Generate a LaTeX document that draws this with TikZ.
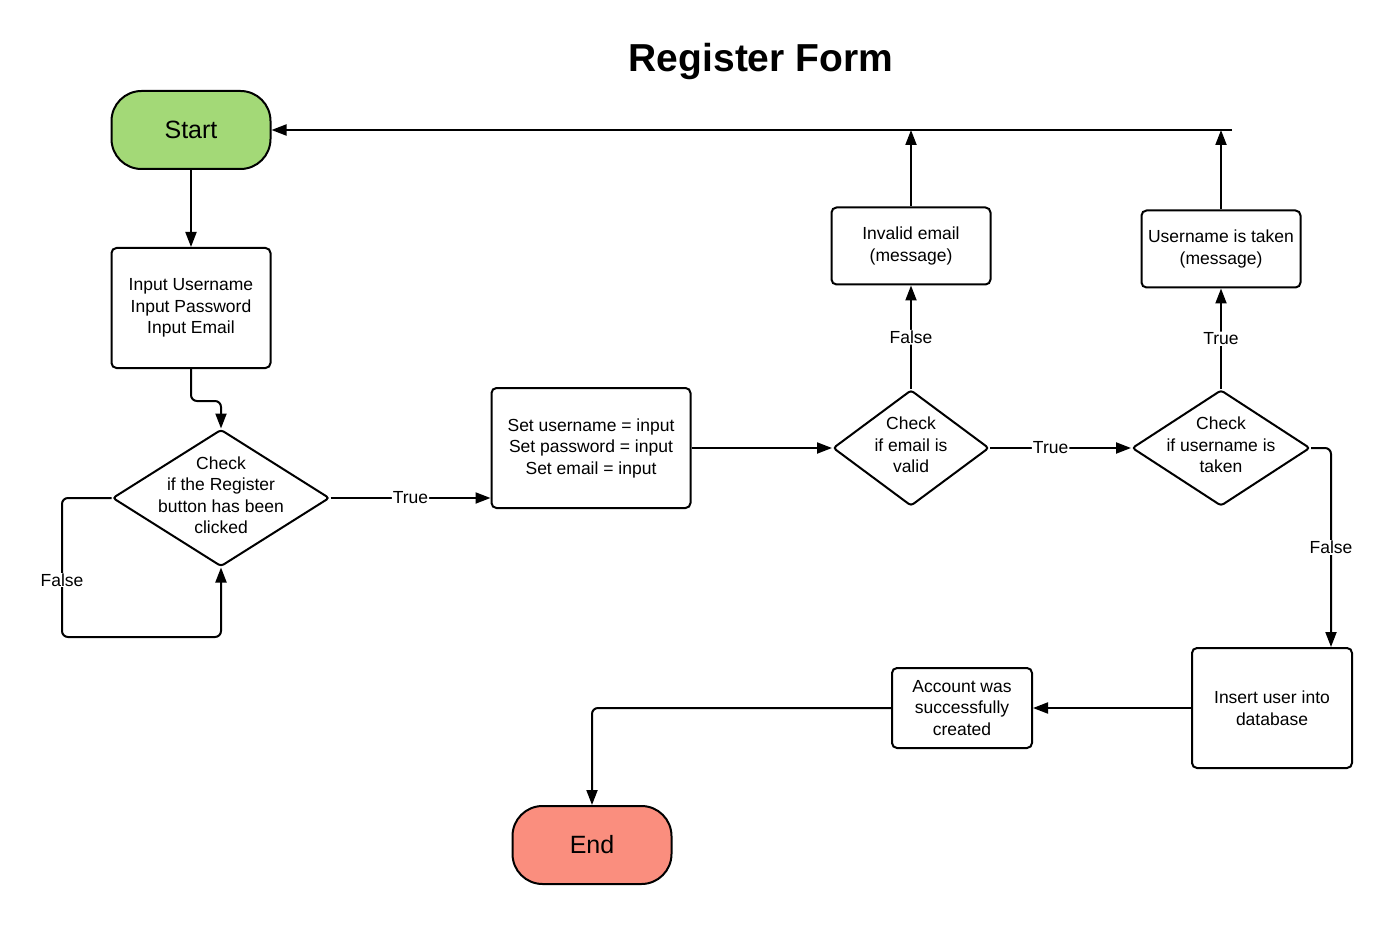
\documentclass[tikz,border=0pt]{standalone}
\usepackage{fontspec}
\setmainfont{Liberation Sans}
\usetikzlibrary{arrows.meta,positioning,shapes.geometric}
\definecolor{leaf}{RGB}{163,217,119}
\definecolor{salmon}{RGB}{250,142,126}
\tikzset{
  >={Triangle[length=15pt,width=11pt]},
  txt/.style={align=center,font=\fontsize{17.5}{21.5}\selectfont},
  box/.style 2 args={draw,line width=2pt,rounded corners=5pt,inner sep=0pt,
    minimum width=#1,minimum height=#2,txt},
  term/.style={draw,line width=2pt,fill=#1,rounded corners=30pt,
    minimum width=159pt,minimum height=78pt,font=\fontsize{25}{30}\selectfont},
  check/.style n args={3}{diamond,draw,line width=2pt,rounded corners=3pt,inner sep=0pt,
    minimum width=#1,minimum height=#2,label={[txt,yshift=3pt]center:#3}},
  flow/.style={->,line width=2pt,rounded corners=6pt},
  tag/.style={fill=white,inner sep=1pt,font=\fontsize{17.5}{21.5}\selectfont},
}

\begin{document}
\begin{tikzpicture}[x=1pt,y=-1pt]
  \useasboundingbox (0,0) rectangle (1392,925);
  \node[font=\bfseries\fontsize{39}{44}\selectfont] (title) at (761,62) {Register Form};

  % nodes
  \node[term=leaf] (start) at (191,130) {Start};
  \node[box={159pt}{120pt}] (in) at (191,308) {Input Username\\Input Password\\Input Email};
  \node[check={217pt}{137pt}{Check\\if the Register\\button has been\\clicked}] (chk) at (221,498) {};
  \node[box={199pt}{120pt}] (set) at (591,448) {Set username = input\\Set password = input\\Set email = input};
  \node[check={156pt}{116pt}{Check\\if email is\\valid}] (vem) at (911,448) {};
  \node[box={159pt}{77pt}] (inv) at (911,246) {Invalid email\\(message)};
  \node[check={178pt}{116pt}{Check\\if username is\\taken}] (vun) at (1221,448) {};
  \node[box={159pt}{77pt}] (tkn) at (1221,249) {Username is taken\\(message)};
  \node[box={160pt}{120pt}] (ins) at (1272,708) {Insert user into\\database};
  \node[box={140pt}{80pt}] (acc) at (962,708) {Account was\\successfully\\created};
  \node[term=salmon] (end) at (592,845) {End};

  \coordinate (ret) at (1232,130);
  \coordinate (loop) at (62,637);

  % connectors
  \draw[flow] (start) -- (in);
  \draw[flow] (in.south) -- ++(0,32) -| (chk.north);
  \draw[flow] (chk.west) -| (loop) -| (chk.south);
  \node[tag] (nofalse) at (62,580) {False};
  \draw[flow] (chk.east) -- node[tag]{True} (chk.east -| set.west);
  \draw[flow] (set.east) -- (vem.west);
  \draw[flow] (vem.north) -- node[tag]{False} (inv.south);
  \draw[flow] (vem.east) -- node[tag,pos=0.43]{True} (vun.west);
  \draw[flow] (vun.north) -- node[tag]{True} (tkn.south);
  \draw[flow] (ret) -- (start.east);
  \draw[flow] (inv.north) -- (inv.north |- ret);
  \draw[flow] (tkn.north) -- (tkn.north |- ret);
  \draw[flow] (vun.east) -| node[tag,pos=0.75]{False} ([xshift=59pt]ins.north);
  \draw[flow] (ins.west) -- (acc.east);
  \draw[flow] (acc.west) -| (end.north);
\end{tikzpicture}
\end{document}
